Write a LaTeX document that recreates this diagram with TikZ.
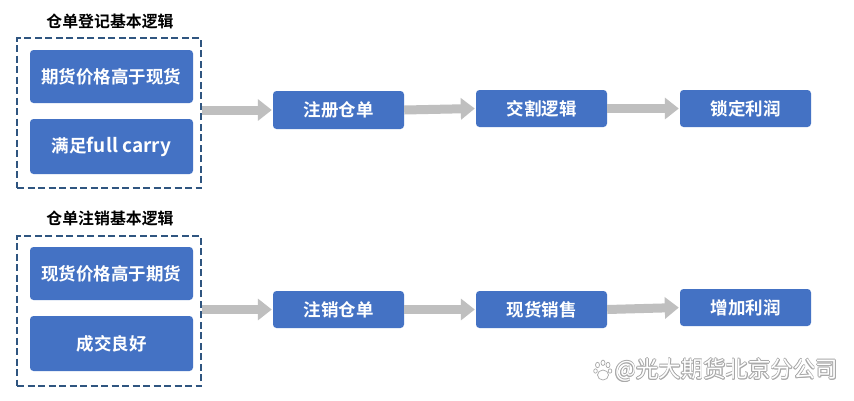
\documentclass[tikz,border=0pt]{standalone}
\usepackage{fontspec}
\setmainfont{Noto Sans CJK SC}[BoldFont={Noto Sans CJK SC Bold}]
\usetikzlibrary{arrows.meta,calc}
\definecolor{bluebox}{HTML}{4472C4}
\definecolor{dashblue}{HTML}{2F5580}
\definecolor{arrowgray}{HTML}{BFBFBF}
\definecolor{wmgray}{HTML}{A8A8A8}
\tikzset{
  x=1pt,y=-1pt,
  bluenode/.style={fill=bluebox,text=white,rounded corners=3.5pt,inner sep=0pt,font=\bfseries\fontsize{17.5}{20}\selectfont},
  dashframe/.style={draw=dashblue,line width=2.2pt,dash pattern=on 7pt off 3.5pt,inner sep=0pt},
  heading/.style={inner sep=0pt,font=\bfseries\fontsize{15.9}{18}\selectfont,text=black},
  flowarrow/.style={draw=arrowgray,line width=9pt,-{Triangle[length=14pt,width=21pt,color=arrowgray]},shorten >=1pt},
  wm/.style={inner sep=0pt,font=\fontsize{22.4}{24}\selectfont},
  paw/.style={draw=wmgray,fill=white,line width=0.7pt},
}
\newcommand{\boxat}[6]{\node[bluenode,minimum width=#4 pt-#3 pt,minimum height=#6 pt-#5 pt] (#1) at ({(#3+#4)/2},{(#5+#6)/2}) {#2};}
\begin{document}
\begin{tikzpicture}
\useasboundingbox (0,0) rectangle (854,400);
\fill[white] (0,0) rectangle (854,400);
% headings
\node[heading] (h1) at (110,21) {仓单登记基本逻辑};
\node[heading] (h2) at (110,218) {仓单注销基本逻辑};
% dashed frames
\node[dashframe,minimum width=184pt,minimum height=150pt] (d1) at (109,113) {};
\node[dashframe,minimum width=184pt,minimum height=150pt] (d2) at (109,311) {};
% top row
\boxat{a1}{期货价格高于现货}{30}{193}{50}{103}
\boxat{a2}{满足{\fontsize{19}{20}\selectfont full carry}}{30}{193}{119}{174}
\boxat{a3}{注册仓单}{273}{404}{91}{129}
\boxat{a4}{交割逻辑}{476}{607}{90}{127}
\boxat{a5}{锁定利润}{680}{811}{90}{127}
% bottom row
\boxat{b1}{现货价格高于期货}{30}{193}{247}{300}
\boxat{b2}{成交良好}{30}{193}{316}{371}
\boxat{b3}{注销仓单}{273}{404}{291}{328}
\boxat{b4}{现货销售}{476}{607}{291}{328}
\boxat{b5}{增加利润}{680}{811}{289}{326}
% connectors
\draw[flowarrow] (a3.west -| d1.east) -- (a3.west);
\draw[flowarrow] (a3.east) -- (a4.west);
\draw[flowarrow] (a4.east) -- (a5.west);
\draw[flowarrow] (b3.west -| d2.east) -- (b3.west);
\draw[flowarrow] (b3.east) -- (b4.west);
\draw[flowarrow] (b4.east) -- (b5.west);
% watermark
\foreach \dx/\dy in {-0.7/0,0.7/0,0/-0.7,0/0.7,-0.5/-0.5,0.5/0.5,-0.5/0.5,0.5/-0.5}{
  \node[wm,text=wmgray,anchor=west] at (615+\dx,370+\dy) {@光大期货北京分公司};
}
\node[wm,text=white,anchor=west] (wmt) at (615,370) {@光大期货北京分公司};
\foreach \px/\py/\rx/\ry in {597.5/365/2/2.7,603/362.8/2/2.7,608/365/2/2.7,595.5/371/1.8/2.2,610/371/1.8/2.2}{
  \draw[paw] (\px,\py) ellipse (\rx pt and \ry pt);
}
\draw[paw] (603,375) ellipse (5.5pt and 5pt);
\end{tikzpicture}
\end{document}
